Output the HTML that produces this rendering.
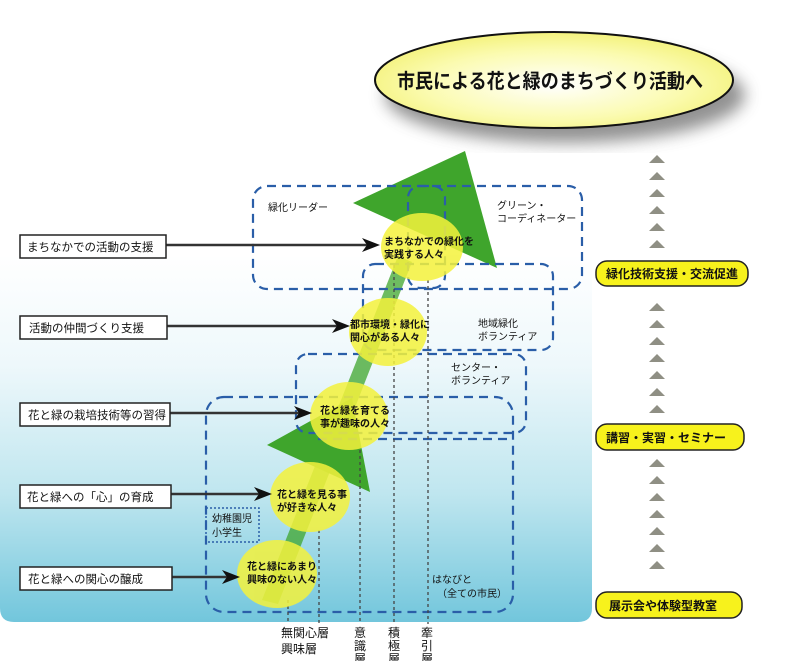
<!DOCTYPE html>
<html><head><meta charset="utf-8"><style>
html,body{margin:0;padding:0;background:#fff}
svg{display:block}
text{font-family:"Liberation Sans","Noto Sans CJK JP",sans-serif;fill:#111}
</style></head><body>
<svg width="798" height="661" viewBox="0 0 798 661" xmlns="http://www.w3.org/2000/svg">
<defs>
<linearGradient id="bg" x1="0" y1="0" x2="0" y2="1">
<stop offset="0" stop-color="#ffffff"/>
<stop offset="0.3" stop-color="#eef8fb"/>
<stop offset="0.65" stop-color="#bfe6ef"/>
<stop offset="1" stop-color="#72c6dc"/>
</linearGradient>
<radialGradient id="ell" cx="0.5" cy="0.55" r="0.6">
<stop offset="0" stop-color="#ffffff"/>
<stop offset="0.6" stop-color="#fbfbb0"/>
<stop offset="1" stop-color="#f2f070"/>
</radialGradient>
<filter id="blur"><feGaussianBlur stdDeviation="8"/></filter>
</defs>
<path d="M0 255 H592 V608 Q592 622 578 622 H14 Q0 622 0 608 Z" fill="url(#bg)"/>

<!-- title -->
<ellipse cx="565" cy="95" rx="180" ry="48" fill="#777" filter="url(#blur)" opacity="0.8"/>
<ellipse cx="554" cy="80" rx="179" ry="48" fill="url(#ell)" stroke="#111" stroke-width="2"/>
<text x="397" y="88" font-size="20" font-weight="bold" textLength="306" lengthAdjust="spacingAndGlyphs" style="fill:#111">市民による花と緑のまちづくり活動へ</text>

<!-- green arrows -->
<polygon points="262,600 278,604 412,262 398,256" fill="#3fa52c" opacity="0.75"/>
<polygon points="465,151 353,203 497,268" fill="#3fa52c"/>
<polygon points="352,398 267,445 370,492" fill="#3fa52c"/>

<!-- dashed rects -->
<g fill="none" stroke="#2a5ea8" stroke-width="2.2" stroke-dasharray="9,6">
<rect x="253" y="186" width="329" height="103" rx="14"/>
<rect x="408" y="186" width="37" height="102" rx="12"/>
<rect x="363" y="264" width="190" height="86" rx="12"/>
<rect x="296" y="354" width="230" height="79" rx="12"/>
<rect x="206" y="397" width="307" height="215" rx="18"/>
<line x1="318" y1="439" x2="513" y2="439"/>
</g>
<rect x="206" y="508" width="53" height="34" fill="none" stroke="#2a5ea8" stroke-width="1.5" stroke-dasharray="2,2"/>
<text x="212" y="522" font-size="10">幼稚園児</text>
<text x="212" y="536" font-size="10">小学生</text>

<!-- vertical dotted -->
<g stroke="#444" stroke-width="1.3" stroke-dasharray="3,3">
<line x1="288" y1="600" x2="288" y2="624"/>
<line x1="319" y1="530" x2="319" y2="624"/>
<line x1="360" y1="450" x2="360" y2="624"/>
<line x1="394" y1="265" x2="394" y2="624"/>
<line x1="428" y1="280" x2="428" y2="624"/>
</g>

<!-- circles -->
<g fill="#f4f23c" opacity="0.85">
<ellipse cx="422" cy="247" rx="41" ry="34"/>
<ellipse cx="388" cy="332" rx="39" ry="34"/>
<ellipse cx="349" cy="416" rx="39" ry="34"/>
<ellipse cx="310" cy="497" rx="40" ry="35"/>
<ellipse cx="277" cy="574" rx="40" ry="34"/>
</g>
<g font-size="10" font-weight="bold">
<text x="384" y="245">まちなかでの緑化を</text><text x="384" y="258">実践する人々</text>
<text x="350" y="328">都市環境・緑化に</text><text x="350" y="341">関心がある人々</text>
<text x="320" y="414">花と緑を育てる</text><text x="320" y="427">事が趣味の人々</text>
<text x="277" y="498">花と緑を見る事</text><text x="277" y="511">が好きな人々</text>
<text x="247" y="570">花と緑にあまり</text><text x="247" y="583">興味のない人々</text>
</g>

<!-- labels -->
<g font-size="10">
<text x="268" y="211">緑化リーダー</text>
<text x="497" y="209">グリーン・</text><text x="497" y="222">コーディネーター</text>
<text x="478" y="327">地域緑化</text><text x="478" y="340">ボランティア</text>
<text x="451" y="371">センター・</text><text x="451" y="384">ボランティア</text>
<text x="432" y="583">はなびと</text><text x="437" y="597">（全ての市民）</text>
</g>
<g font-size="12">
<text x="281" y="637">無関心層</text><text x="281" y="653">興味層</text>
<text x="354" y="637">意</text><text x="354" y="650">識</text><text x="354" y="663">層</text>
<text x="388" y="637">積</text><text x="388" y="650">極</text><text x="388" y="663">層</text>
<text x="421" y="637">牽</text><text x="421" y="650">引</text><text x="421" y="663">層</text>
</g>

<!-- left boxes + arrows -->
<g stroke="#333" stroke-width="2.5">
<line x1="166" y1="245" x2="370" y2="245"/>
<line x1="167" y1="326" x2="340" y2="326"/>
<line x1="170" y1="413" x2="302" y2="413"/>
<line x1="171" y1="494" x2="262" y2="494"/>
<line x1="172" y1="577" x2="230" y2="577"/>
</g>
<g fill="#111">
<polygon points="380,245 362,238 367,245 362,252"/>
<polygon points="350,326 332,319 337,326 332,333"/>
<polygon points="312,413 294,406 299,413 294,420"/>
<polygon points="272,494 254,487 259,494 254,501"/>
<polygon points="240,577 222,570 227,577 222,584"/>
</g>
<g fill="#fff" stroke="#222" stroke-width="1.5">
<rect x="20" y="235" width="146" height="23"/>
<rect x="20" y="316" width="147" height="23"/>
<rect x="20" y="403" width="150" height="23"/>
<rect x="20" y="485" width="151" height="23"/>
<rect x="20" y="567" width="152" height="23"/>
</g>
<g font-size="11.5">
<text x="27" y="251">まちなかでの活動の支援</text>
<text x="29" y="332">活動の仲間づくり支援</text>
<text x="28" y="419">花と緑の栽培技術等の習得</text>
<text x="27" y="501">花と緑への「心」の育成</text>
<text x="28" y="583">花と緑への関心の醸成</text>
</g>

<!-- right column -->
<g fill="#8f8f84">
<polygon points="657,155 649,163 665,163"/><polygon points="657,172 649,180 665,180"/>
<polygon points="657,189 649,197 665,197"/><polygon points="657,206 649,214 665,214"/>
<polygon points="657,223 649,231 665,231"/><polygon points="657,240 649,248 665,248"/>
<polygon points="657,303 649,311 665,311"/><polygon points="657,320 649,328 665,328"/>
<polygon points="657,337 649,345 665,345"/><polygon points="657,354 649,362 665,362"/>
<polygon points="657,371 649,379 665,379"/><polygon points="657,388 649,396 665,396"/>
<polygon points="657,405 649,413 665,413"/>
<polygon points="657,459 649,467 665,467"/><polygon points="657,476 649,484 665,484"/>
<polygon points="657,493 649,501 665,501"/><polygon points="657,510 649,518 665,518"/>
<polygon points="657,527 649,535 665,535"/><polygon points="657,544 649,552 665,552"/>
<polygon points="657,561 649,569 665,569"/>
</g>
<g fill="#f7f21c" stroke="#222" stroke-width="1.5">
<rect x="596" y="261" width="152" height="25" rx="11"/>
<rect x="596" y="424" width="148" height="26" rx="11"/>
<rect x="596" y="592" width="146" height="26" rx="11"/>
</g>
<g font-size="12" font-weight="bold">
<text x="606" y="278">緑化技術支援・交流促進</text>
<text x="606" y="442">講習・実習・セミナー</text>
<text x="609" y="610">展示会や体験型教室</text>
</g>
</svg>
</body></html>
